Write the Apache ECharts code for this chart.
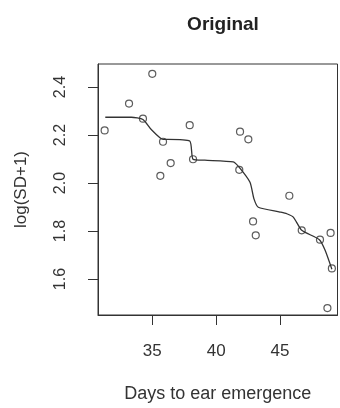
<!DOCTYPE html>
<html>
<head>
<meta charset="utf-8">
<script src="https://cdn.jsdelivr.net/npm/echarts@6/dist/echarts.min.js"></script>
<style>
html,body{margin:0;padding:0;background:#fff;}
#chart{width:340px;height:408px;}
</style>
</head>
<body>
<div id="chart"></div>
<script>
// Observed data points (days to ear emergence, log(SD+1))
var pointDays = [31.27, 33.18, 35.0, 34.27, 35.84, 37.93, 36.44, 35.63, 38.19, 41.87,
                 42.52, 41.81, 45.73, 42.89, 43.10, 46.70, 48.13, 48.96, 49.06, 48.71];
var pointVals = [2.219, 2.331, 2.455, 2.268, 2.172, 2.241, 2.083, 2.030, 2.099, 2.214,
                 2.182, 2.055, 1.947, 1.840, 1.782, 1.803, 1.764, 1.792, 1.644, 1.479];

// Fitted curve
var curveDays = [31.32, 33.36, 34.27, 34.92, 35.84, 36.23, 37.93, 38.19, 39.11, 41.34,
                 41.81, 42.65, 42.96, 43.30, 45.0, 45.53, 46.04, 46.70, 48.08, 48.53, 49.06];
var curveVals = [2.274, 2.274, 2.265, 2.223, 2.182, 2.182, 2.175, 2.099, 2.095, 2.088,
                 2.065, 2.003, 1.934, 1.899, 1.879, 1.872, 1.858, 1.803, 1.764, 1.720, 1.641];

var xTicks = [35, 40, 45];
var yTicks = [1.6, 1.8, 2.0, 2.2, 2.4];

var titleText = 'Original';
var xTitle = 'Days to ear emergence';
var yTitle = 'log(SD+1)';

var scatterData = pointDays.map(function(d, i){ return [d, pointVals[i]]; });
var curveData = curveDays.map(function(d, i){ return [d, curveVals[i]]; });

var FONT = '"Liberation Sans", Arial, sans-serif';
var TXT = '#333';

var chart = echarts.init(document.getElementById('chart'), null, {renderer: 'canvas'});
chart.setOption({
  backgroundColor: '#fff',
  animation: false,
  title: {
    text: titleText,
    left: 218,
    top: 10,
    textAlign: 'center',
    textStyle: {fontFamily: FONT, fontSize: 19, fontWeight: 'bold', color: '#222'}
  },
  grid: {
    left: 98, right: 2.5, top: 64, bottom: 91,
    show: true, borderColor: '#333', borderWidth: 1, backgroundColor: 'transparent'
  },
  xAxis: {
    type: 'value',
    min: 30.75, max: 49.5,
    name: xTitle,
    nameLocation: 'middle',
    nameGap: 70,
    nameTextStyle: {fontFamily: FONT, fontSize: 18, color: TXT},
    axisLine: {show: true, onZero: false, lineStyle: {color: '#333'}},
    axisTick: {show: true, length: 10, customValues: xTicks, lineStyle: {color: '#333'}},
    axisLabel: {customValues: xTicks, margin: 28, fontFamily: FONT, fontSize: 17, color: TXT},
    splitLine: {show: false}
  },
  yAxis: {
    type: 'value',
    min: 1.45, max: 2.496,
    name: yTitle,
    nameLocation: 'middle',
    nameRotate: 90,
    nameGap: 68,
    nameTextStyle: {fontFamily: FONT, fontSize: 17, color: TXT},
    axisLine: {show: true, onZero: false, lineStyle: {color: '#333'}},
    axisTick: {show: true, length: 10, customValues: yTicks, lineStyle: {color: '#333'}},
    axisLabel: {
      customValues: yTicks, rotate: 90, margin: 29,
      fontFamily: FONT, fontSize: 16, color: TXT,
      formatter: function(v){ return v.toFixed(1); }
    },
    splitLine: {show: false}
  },
  series: [
    {
      type: 'scatter',
      data: scatterData,
      symbol: 'circle',
      symbolSize: 7,
      itemStyle: {color: 'rgba(255,255,255,0)', borderColor: '#333', borderWidth: 1.2},
      z: 2
    },
    {
      type: 'line',
      data: curveData,
      showSymbol: false,
      smooth: 0.2,
      lineStyle: {color: '#333', width: 1.3},
      z: 3
    }
  ]
});
</script>
</body>
</html>
